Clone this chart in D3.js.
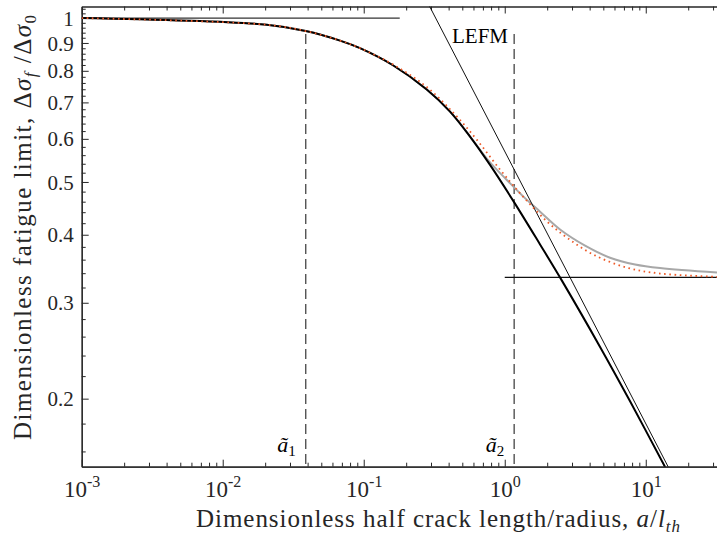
<!DOCTYPE html>
<html>
<head>
<meta charset="utf-8">
<script src="https://cdn.jsdelivr.net/npm/d3@7"></script>
<style>
body { margin: 0; background: #fff; }
svg { display: block; }
svg text { font-family: "Liberation Serif", "DejaVu Serif", serif; }
</style>
</head>
<body>
<div id="chart"></div>
<script>
// full model (thick black)
const crackLen = [0.001, 0.0205, 0.0388, 0.0679, 0.0941, 0.1622, 0.2798, 0.4093, 0.5674, 0.7865, 1.164, 1.780, 2.549, 4.742, 7.739, 13.71]
const fatigueLimit = [1.000, 0.972, 0.9466, 0.909, 0.8804, 0.8182, 0.7392, 0.6734, 0.6059, 0.5374, 0.4592, 0.3839, 0.3291, 0.2489, 0.1978, 0.1498]
// notched (gray)
const grayLen = [0.001, 0.0205, 0.0388, 0.0679, 0.0941, 0.1622, 0.2798, 0.4093, 0.5674, 0.7865, 0.977, 1.355, 1.780, 2.467, 3.711, 5.58, 8.40, 12.63, 32.0]
const grayLimit = [1.000, 0.972, 0.9466, 0.909, 0.8804, 0.8182, 0.7392, 0.6734, 0.6059, 0.543, 0.512, 0.470, 0.441, 0.409, 0.382, 0.363, 0.3527, 0.3474, 0.3408]
// approximation (orange dotted)
const dotLen = [0.001, 0.0205, 0.0388, 0.0679, 0.0941, 0.1622, 0.2798, 0.444, 0.633, 0.926, 1.348, 1.995, 2.766, 4.229, 7.368, 12.63, 32.0]
const dotLimit = [1.000, 0.972, 0.9466, 0.909, 0.8804, 0.821, 0.747, 0.665, 0.598, 0.527, 0.470, 0.423, 0.395, 0.368, 0.348, 0.3395, 0.3348]
// asymptotes
const lefmLen = [0.28, 15]
const lefmLimit = [1.075, 0.147]
const plateauLen = [0.001, 0.18]
const plateauLimit = [1, 1]
const notchLen = [1, 32]
const notchLimit = [0.334, 0.334]
// transition lengths
const aTilde = [0.0388, 1.166]
const aTildeIdx = ["1", "2"]
const dashTop = 0.935

const xMajor = [1e-3, 1e-2, 1e-1, 1, 10]
const xExp = ["-3", "-2", "-1", "0", "1"]
const yMajor = [0.2, 0.3, 0.4, 0.5, 0.6, 0.7, 0.8, 0.9, 1]
const yLabels = ["0.2", "0.3", "0.4", "0.5", "0.6", "0.7", "0.8", "0.9", "1"]

const width = 717, height = 539
const mLeft = 81.7, mRight = 717, mTop = 6.5, mBottom = 466.7
const axisColor = "#262626"

const x = d3.scaleLog().domain([0.001, 32]).range([mLeft, mRight])
const y = d3.scaleLog().domain([0.15, 1.05]).range([mBottom, mTop])

const svg = d3.select("#chart").append("svg")
    .attr("width", width)
    .attr("height", height)

svg.append("clipPath").attr("id", "plot")
    .append("rect")
    .attr("x", mLeft).attr("y", mTop)
    .attr("width", mRight - mLeft).attr("height", mBottom - mTop)

// minor ticks
const xMinor = []
for (const dec of xMajor) {
    for (let k = 2; k <= 9; k++) {
        const v = +(dec * k).toPrecision(3)
        if (v <= 32) xMinor.push(v)
    }
}
const yMinor = []
for (let k = 8; k <= 52; k++) {
    const v = +(k * 0.02).toFixed(2)
    if (!yMajor.includes(v) && v <= 1.05) yMinor.push(v)
}

function styleAxis(g) {
    g.select(".domain").attr("stroke", axisColor).attr("stroke-width", 1.2)
    g.selectAll(".tick line").attr("stroke", axisColor).attr("stroke-width", 1)
    g.selectAll(".tick text").remove()
}

// bottom axis
svg.append("g").attr("transform", `translate(0,${mBottom})`)
    .call(d3.axisBottom(x).tickValues(xMinor).tickSizeInner(-4).tickSizeOuter(0).tickFormat(""))
    .call(styleAxis)
const xAx = svg.append("g").attr("transform", `translate(0,${mBottom})`)
    .call(d3.axisBottom(x).tickValues(xMajor).tickSizeInner(-7).tickSizeOuter(0).tickFormat(""))
    .call(styleAxis)
xAx.selectAll(".tick").each(function (d, i) {
    const t = d3.select(this).append("text")
        .attr("y", 30).attr("x", 0).attr("fill", axisColor)
        .attr("text-anchor", "middle")
        .style("font-size", "23px")
    t.append("tspan").text("10")
    t.append("tspan").attr("dy", -10).style("font-size", "16px").text(xExp[i])
})

// top axis
svg.append("g").attr("transform", `translate(0,${mTop})`)
    .call(d3.axisTop(x).tickValues(xMinor).tickSizeInner(-4).tickSizeOuter(0).tickFormat(""))
    .call(styleAxis)
svg.append("g").attr("transform", `translate(0,${mTop})`)
    .call(d3.axisTop(x).tickValues(xMajor).tickSizeInner(-7).tickSizeOuter(0).tickFormat(""))
    .call(styleAxis)

// left axis
svg.append("g").attr("transform", `translate(${mLeft},0)`)
    .call(d3.axisLeft(y).tickValues(yMinor).tickSizeInner(-4).tickSizeOuter(0).tickFormat(""))
    .call(styleAxis)
const yAx = svg.append("g").attr("transform", `translate(${mLeft},0)`)
    .call(d3.axisLeft(y).tickValues(yMajor).tickSizeInner(-7).tickSizeOuter(0).tickFormat(""))
    .call(styleAxis)
yAx.selectAll(".tick").append("text")
    .attr("x", -8).attr("dy", "0.34em")
    .attr("text-anchor", "end")
    .attr("fill", axisColor)
    .style("font-size", "21px")
    .text((d, i) => yLabels[i])

const plot = svg.append("g").attr("clip-path", "url(#plot)")
const line = d3.line().x(d => x(d[0])).y(d => y(d[1])).curve(d3.curveCatmullRom.alpha(0.5))
const straight = d3.line().x(d => x(d[0])).y(d => y(d[1]))
const zip = (a, b) => a.map((v, i) => [v, b[i]])

// dashed markers
plot.selectAll("line.mark")
    .data(aTilde)
    .join("line")
    .attr("class", "mark")
    .attr("x1", d => x(d)).attr("x2", d => x(d))
    .attr("y1", y(dashTop)).attr("y2", mBottom)
    .attr("stroke", "#444")
    .attr("stroke-width", 1.3)
    .attr("stroke-dasharray", "10,5")

plot.append("path").datum(zip(grayLen, grayLimit))
    .attr("d", line).attr("fill", "none")
    .attr("stroke", "#a8a8a8").attr("stroke-width", 2)

plot.append("path").datum(zip(plateauLen, plateauLimit))
    .attr("d", straight).attr("fill", "none")
    .attr("stroke", "#333").attr("stroke-width", 1.2)
plot.append("path").datum(zip(notchLen, notchLimit))
    .attr("d", straight).attr("fill", "none")
    .attr("stroke", "#111").attr("stroke-width", 1.2)
plot.append("path").datum(zip(lefmLen, lefmLimit))
    .attr("d", straight).attr("fill", "none")
    .attr("stroke", "#111").attr("stroke-width", 1)

plot.append("path").datum(zip(crackLen, fatigueLimit))
    .attr("d", line).attr("fill", "none")
    .attr("stroke", "#000").attr("stroke-width", 2)

plot.append("path").datum(zip(dotLen, dotLimit))
    .attr("d", line).attr("fill", "none")
    .attr("stroke", "#ee5a28").attr("stroke-width", 1.8)
    .attr("stroke-dasharray", "1.6,3.6")

// labels
svg.append("text")
    .attr("x", 452).attr("y", 43)
    .style("font-size", "21px").attr("fill", "#000")
    .text("LEFM")

aTilde.forEach((a, i) => {
    const t = svg.append("text")
        .attr("x", x(a) - 10).attr("y", 452)
        .attr("text-anchor", "end")
        .style("font-size", "22px").attr("fill", "#000")
    t.append("tspan").style("font-style", "italic").text("ã")
    t.append("tspan").attr("dy", 4).style("font-size", "15px").text(aTildeIdx[i])
})

const xl = svg.append("text")
    .attr("x", 196).attr("y", 527)
    .attr("textLength", 484)
    .attr("lengthAdjust", "spacing")
    .style("font-size", "25px").attr("fill", axisColor)
xl.append("tspan").text("Dimensionless half crack length/radius, ")
xl.append("tspan").style("font-style", "italic").text("a")
xl.append("tspan").text("/")
xl.append("tspan").style("font-style", "italic").text("l")
xl.append("tspan").attr("dy", 5).style("font-size", "17px").style("font-style", "italic").text("th")

const yl = svg.append("text")
    .attr("transform", `translate(31,440) rotate(-90)`)
    .attr("textLength", 425)
    .attr("lengthAdjust", "spacing")
    .style("font-size", "25px").attr("fill", axisColor)
yl.append("tspan").text("Dimensionless fatigue limit, Δ")
yl.append("tspan").style("font-style", "italic").text("σ")
yl.append("tspan").attr("dy", 5).style("font-size", "17px").style("font-style", "italic").text("f")
yl.append("tspan").attr("dy", -5).text(" /Δ")
yl.append("tspan").style("font-style", "italic").text("σ")
yl.append("tspan").attr("dy", 5).style("font-size", "17px").text("0")
</script>
</body>
</html>
